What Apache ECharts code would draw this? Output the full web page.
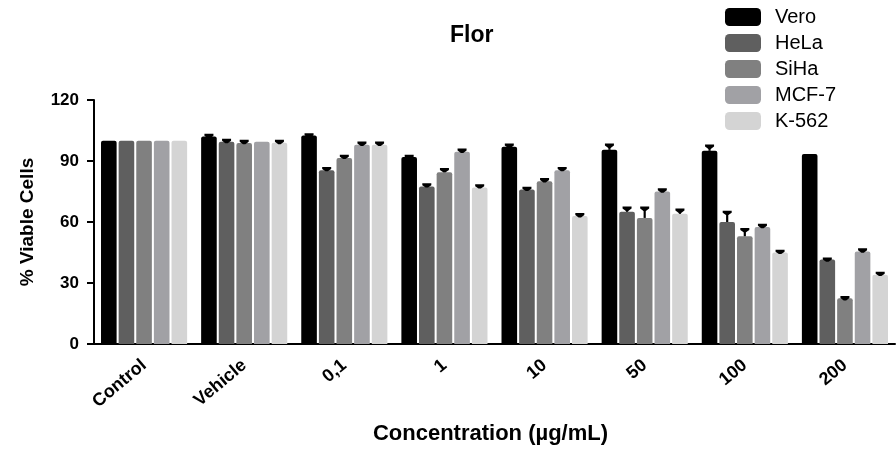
<!DOCTYPE html>
<html>
<head>
<meta charset="utf-8">
<script src="https://cdn.jsdelivr.net/npm/echarts@6/dist/echarts.min.js"></script>
<style>
html,body{margin:0;padding:0;background:#fff;}
#chart{width:896px;height:450px;}
</style>
</head>
<body>
<div id="chart"></div>
<script>
const categories = ['Control', 'Vehicle', '0,1', '1', '10', '50', '100', '200'];
const seriesNames = ['Vero', 'HeLa', 'SiHa', 'MCF-7', 'K-562'];
const vero = [100, 102, 102.5, 92, 97, 95.5, 95, 93.5];
const hela = [100, 99.5, 85.5, 77.5, 76, 65, 60, 41.5];
const siha = [100, 98.8, 91.5, 84.5, 80, 62, 53, 22.5];
const mcf7 = [100, 99.5, 98, 94.5, 85.5, 75, 57.5, 45.5];
const k562 = [100, 99, 98, 77, 63, 64, 45, 34];
const veroErr = [0, 0.8, 0.5, 0.5, 1, 2.5, 2.5, 0];
const helaErr = [0, 0.8, 1, 1, 0.8, 2, 5, 0.5];
const sihaErr = [0, 1, 1, 1.5, 1, 5, 3.5, 0.5];
const mcf7Err = [0, 0, 1, 1, 1, 1, 1, 1];
const k562Err = [0, 0.8, 1, 1, 0.8, 2, 0.8, 1];
const yTicks = [0, 30, 60, 90, 120];

const values = [vero, hela, siha, mcf7, k562];
const errors = [veroErr, helaErr, sihaErr, mcf7Err, k562Err];
const colors = ['#000000', '#5f5f5f', '#808080', '#a1a1a5', '#d4d4d4'];
const FONT = 'Liberation Sans';
const CAT_GAP = 0.14, BAR_GAP = 0.13, N = 5;

const chart = echarts.init(document.getElementById('chart'), null, {renderer: 'canvas'});

const series = [];
values.forEach((vals, s) => {
  series.push({
    name: seriesNames[s],
    type: 'bar',
    data: vals,
    barCategoryGap: (CAT_GAP * 100) + '%',
    barGap: (BAR_GAP * 100) + '%',
    itemStyle: {color: colors[s], borderRadius: [2, 2, 0, 0]},
    z: 2
  });
});
values.forEach((vals, s) => {
  series.push({
    type: 'custom',
    name: seriesNames[s] + ' err',
    z: 5,
    silent: true,
    data: vals.map((v, i) => [i, v, errors[s][i]]),
    renderItem: function (params, api) {
      const ci = api.value(0), v = api.value(1), e = api.value(2);
      if (!e) return null;
      const band = api.size([1, 0])[0];
      const avail = band * (1 - CAT_GAP);
      const w = avail / (N + (N - 1) * BAR_GAP);
      const g = w * BAR_GAP;
      const base = api.coord([ci, v]);
      const x = base[0] - avail / 2 + s * (w + g) + w / 2;
      const yTop = base[1];
      const yErr = api.coord([ci, v + e])[1];
      return {
        type: 'group',
        children: [
          {type: 'line', shape: {x1: x, y1: yTop, x2: x, y2: yErr},
           style: {stroke: '#000', lineWidth: 2.2}},
          {type: 'polygon', shape: {points: [
              [x - 4.5, yErr - 1.2], [x + 4.5, yErr - 1.2], [x + 4.5, yErr + 0.8],
              [x + 1.2, yErr + 3.2], [x - 1.2, yErr + 3.2], [x - 4.5, yErr + 0.8]]},
           style: {fill: '#000'}}
        ]
      };
    }
  });
});

chart.setOption({
  animation: false,
  backgroundColor: '#fff',
  title: {
    text: 'Flor',
    left: 450, top: 24, padding: 0,
    textStyle: {fontFamily: FONT, fontWeight: 'bold', fontSize: 23, color: '#000'}
  },
  legend: {
    data: seriesNames,
    orient: 'vertical',
    left: 725, top: 7, padding: 0,
    itemWidth: 36, itemHeight: 18, itemGap: 6,
    icon: 'roundRect',
    textStyle: {fontFamily: FONT, fontSize: 20, color: '#000', padding: [0, 0, 0, 9], lineHeight: 18}
  },
  grid: {left: 94, right: 1, top: 100, bottom: 106, containLabel: false},
  xAxis: {
    type: 'category',
    data: categories,
    name: 'Concentration (µg/mL)',
    nameLocation: 'middle',
    nameGap: 79,
    nameTextStyle: {fontFamily: FONT, fontWeight: 'bold', fontSize: 22, color: '#000', padding: [0, 8, 0, 0]},
    axisLine: {lineStyle: {color: '#000', width: 2}},
    axisTick: {alignWithLabel: true, length: 7, lineStyle: {color: '#000', width: 2}},
    axisLabel: {rotate: 40, margin: 19, fontFamily: FONT, fontWeight: 'bold', fontSize: 18, color: '#000', interval: 0}
  },
  yAxis: {
    type: 'value',
    min: yTicks[0], max: yTicks[yTicks.length - 1], interval: 30,
    name: '% Viable Cells',
    nameLocation: 'middle',
    nameGap: 57,
    nameRotate: 90,
    nameTextStyle: {fontFamily: FONT, fontWeight: 'bold', fontSize: 19, color: '#000'},
    axisLine: {show: true, lineStyle: {color: '#000', width: 2}},
    axisTick: {show: true, length: 7, lineStyle: {color: '#000', width: 2}},
    axisLabel: {margin: 15, fontFamily: FONT, fontWeight: 'bold', fontSize: 17, color: '#000'},
    splitLine: {show: false}
  },
  series: series
});
</script>
</body>
</html>
